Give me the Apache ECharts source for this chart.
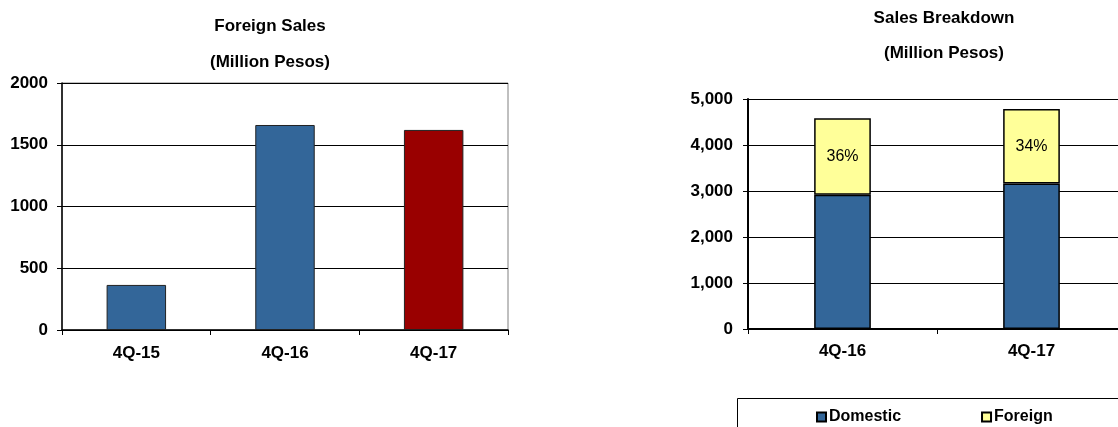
<!DOCTYPE html>
<html>
<head>
<meta charset="utf-8">
<script src="https://cdn.jsdelivr.net/npm/echarts@6/dist/echarts.min.js"></script>
<style>
html,body{margin:0;padding:0;background:#fff;}
#c{width:1118px;height:427px;}
</style>
</head>
<body>
<div id="c"></div>
<script>
// Left chart data
const foreignCategories = ['4Q-15', '4Q-16', '4Q-17'];
const foreignSales = [365, 1660, 1620];
const foreignTicks = [0, 500, 1000, 1500, 2000];

// Right chart data
const breakdownCategories = ['4Q-16', '4Q-17'];
const domesticValues = [2920, 3165];
const foreignValues = [1660, 1620];
const foreignShareLabels = ['36%', '34%'];
const breakdownTicks = [0, 1000, 2000, 3000, 4000, 5000];

const FONT = '"Liberation Sans", Arial, sans-serif';
const BLUE = '#336699';
const RED = '#990000';
const YELLOW = '#FFFF99';

const chart = echarts.init(document.getElementById('c'), null, {renderer: 'canvas'});

const axisLabelStyle = {color: '#000', fontFamily: FONT, fontWeight: 'bold', fontSize: 17};

const option = {
  backgroundColor: '#fff',
  animation: false,
  graphic: [
    {type: 'text', x: 270, y: 26, style: {text: 'Foreign Sales', font: 'bold 17px ' + FONT, fill: '#000', textAlign: 'center', textVerticalAlign: 'middle'}},
    {type: 'text', x: 270, y: 62, style: {text: '(Million Pesos)', font: 'bold 17px ' + FONT, fill: '#000', textAlign: 'center', textVerticalAlign: 'middle'}},
    {type: 'text', x: 944, y: 18, style: {text: 'Sales Breakdown', font: 'bold 17px ' + FONT, fill: '#000', textAlign: 'center', textVerticalAlign: 'middle'}},
    {type: 'text', x: 944, y: 53, style: {text: '(Million Pesos)', font: 'bold 17px ' + FONT, fill: '#000', textAlign: 'center', textVerticalAlign: 'middle'}},
    {type: 'rect', shape: {x: 737.5, y: 398.5, width: 430, height: 50}, style: {fill: 'none', stroke: '#000', lineWidth: 1}}
  ],
  legend: {
    data: ['Domestic', 'Foreign'],
    left: 816,
    top: 409,
    padding: 0,
    itemWidth: 9,
    itemHeight: 9,
    itemGap: 80,
    icon: 'rect',
    textStyle: {color: '#000', fontFamily: FONT, fontWeight: 'bold', fontSize: 16, padding: [0, 0, 0, -2]}
  },
  grid: [
    {left: 62, top: 83, width: 446, height: 247, containLabel: false, outerBoundsMode: 'none', show: true, borderColor: '#808080', borderWidth: 1},
    {left: 748, top: 99, right: -8, height: 230, containLabel: false, outerBoundsMode: 'none'}
  ],
  xAxis: [
    {
      type: 'category', gridIndex: 0, data: foreignCategories,
      axisLine: {lineStyle: {color: '#000', width: 1.5}},
      axisTick: {show: true, length: 5, lineStyle: {color: '#000'}},
      axisLabel: Object.assign({margin: 15}, axisLabelStyle)
    },
    {
      type: 'category', gridIndex: 1, data: breakdownCategories,
      axisLine: {lineStyle: {color: '#000', width: 2}},
      axisTick: {show: true, length: 5, lineStyle: {color: '#000'}},
      axisLabel: Object.assign({margin: 14}, axisLabelStyle)
    }
  ],
  yAxis: [
    {
      type: 'value', gridIndex: 0,
      min: foreignTicks[0], max: foreignTicks[foreignTicks.length - 1], interval: foreignTicks[1] - foreignTicks[0],
      axisLine: {show: true, lineStyle: {color: '#000', width: 1.5}},
      axisTick: {show: true, length: 5, lineStyle: {color: '#000'}},
      splitLine: {show: true, lineStyle: {color: '#000', width: 1}},
      axisLabel: Object.assign({margin: 14, formatter: v => String(v)}, axisLabelStyle)
    },
    {
      type: 'value', gridIndex: 1,
      min: breakdownTicks[0], max: breakdownTicks[breakdownTicks.length - 1], interval: breakdownTicks[1] - breakdownTicks[0],
      axisLine: {show: true, lineStyle: {color: '#000', width: 2}},
      axisTick: {show: true, length: 5, lineStyle: {color: '#000'}},
      splitLine: {show: true, lineStyle: {color: '#000', width: 1}},
      axisLabel: Object.assign({
        margin: 15,
        formatter: v => v.toLocaleString('en-US')
      }, axisLabelStyle)
    }
  ],
  series: [
    {
      name: 'Foreign Sales', type: 'bar', xAxisIndex: 0, yAxisIndex: 0,
      data: foreignSales, barWidth: '40%',
      itemStyle: {
        color: p => (p.dataIndex === foreignSales.length - 1 ? RED : BLUE),
        borderColor: '#222', borderWidth: 1
      }
    },
    {
      name: 'Domestic', type: 'bar', stack: 'sales', xAxisIndex: 1, yAxisIndex: 1,
      data: domesticValues, barWidth: '30%',
      itemStyle: {color: BLUE, borderColor: '#000', borderWidth: 1.5}
    },
    {
      name: 'Foreign', type: 'bar', stack: 'sales', xAxisIndex: 1, yAxisIndex: 1,
      data: foreignValues, barWidth: '30%',
      itemStyle: {color: YELLOW, borderColor: '#000', borderWidth: 1.5},
      label: {
        show: true, position: 'inside',
        formatter: p => foreignShareLabels[p.dataIndex],
        color: '#000', fontFamily: FONT, fontSize: 16, fontWeight: 'normal'
      }
    }
  ]
};
chart.setOption(option);
</script>
</body>
</html>
